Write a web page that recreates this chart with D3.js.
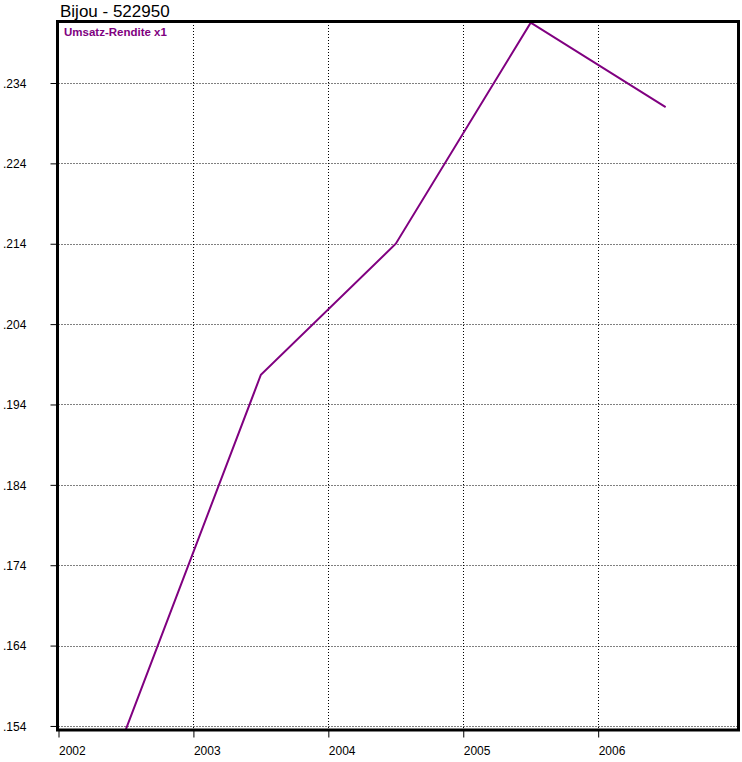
<!DOCTYPE html>
<html><head><meta charset="utf-8">
<script src="https://cdn.jsdelivr.net/npm/d3@7"></script>
<style>body{margin:0;background:#fff;}svg{display:block;}</style>
</head><body>
<svg id="c" width="742" height="762"></svg>
<script>
const title = "Bijou - 522950";
const seriesName = "Umsatz-Rendite x1";
const years = [2002.5, 2003.5, 2004.5, 2005.5, 2006.5];
const values = [0.1536, 0.1977, 0.2140, 0.2415, 0.2310];
const yTicks = [0.154, 0.164, 0.174, 0.184, 0.194, 0.204, 0.214, 0.224, 0.234];
const xTicks = [2002, 2003, 2004, 2005, 2006];
const yDomain = [0.15356, 0.24159];
const xDomain = [2002, 2007.04];

const svg = d3.select("#c");
const L = 58.5, R = 738.5, T = 22, B = 729.5;
const x = d3.scaleLinear().domain(xDomain).range([L, R]);
const y = d3.scaleLinear().domain(yDomain).range([B, T]);
const font = "Liberation Sans, Arial, sans-serif";

// grid
const g = svg.append("g");
g.selectAll("line.hg").data(yTicks).enter().append("line")
  .attr("x1", L).attr("x2", R)
  .attr("y1", d => Math.round(y(d)) + 0.5).attr("y2", d => Math.round(y(d)) + 0.5)
  .attr("stroke", "#000").attr("stroke-width", 1).attr("stroke-dasharray", "1,2");
g.selectAll("line.vg").data(xTicks.slice(1)).enter().append("line")
  .attr("y1", T).attr("y2", B)
  .attr("x1", d => Math.round(x(d)) + 0.5).attr("x2", d => Math.round(x(d)) + 0.5)
  .attr("stroke", "#000").attr("stroke-width", 1).attr("stroke-dasharray", "1,2");

// axes
const yAxis = d3.axisLeft(y).tickValues(yTicks).tickSize(8).tickFormat(d => d3.format(".3f")(d).replace(/^0/, ""));
const ya = svg.append("g").attr("transform", `translate(${L},0)`).call(yAxis);
ya.select(".domain").remove();
ya.selectAll(".tick text").attr("font-family", font).attr("font-size", 12).attr("fill", "#000")
  .attr("text-anchor", "start").attr("x", -L + 3).attr("dy", "0.35em");
ya.selectAll(".tick line").attr("stroke", "#000");

const xAxis = d3.axisBottom(x).tickValues(xTicks).tickSize(8).tickFormat(d3.format("d"));
const xa = svg.append("g").attr("transform", `translate(0,${B})`).call(xAxis);
xa.select(".domain").remove();
xa.selectAll(".tick text").attr("font-family", font).attr("font-size", 12).attr("fill", "#000")
  .attr("text-anchor", "start").attr("y", 17).attr("dy", "0.71em").attr("x", 0);
xa.selectAll(".tick line").attr("stroke", "#000");

// line
const line = d3.line().x((d, i) => x(years[i])).y(d => y(d));
svg.append("path").datum(values).attr("d", line)
  .attr("fill", "none").attr("stroke", "#800080").attr("stroke-width", 2);

// frame
svg.append("rect").attr("x", L - 1).attr("y", T - 0.5).attr("width", R - L + 1).attr("height", B - T + 1)
  .attr("fill", "none").attr("stroke", "#000").attr("stroke-width", 3);

// title & legend
svg.append("text").attr("x", 60).attr("y", 17).attr("font-family", font).attr("font-size", 17)
  .attr("fill", "#000").text(title);
svg.append("text").attr("x", 64).attr("y", 36).attr("font-family", font).attr("font-size", 11.5)
  .attr("font-weight", "bold").attr("fill", "#800080").text(seriesName);
</script>
</body></html>
